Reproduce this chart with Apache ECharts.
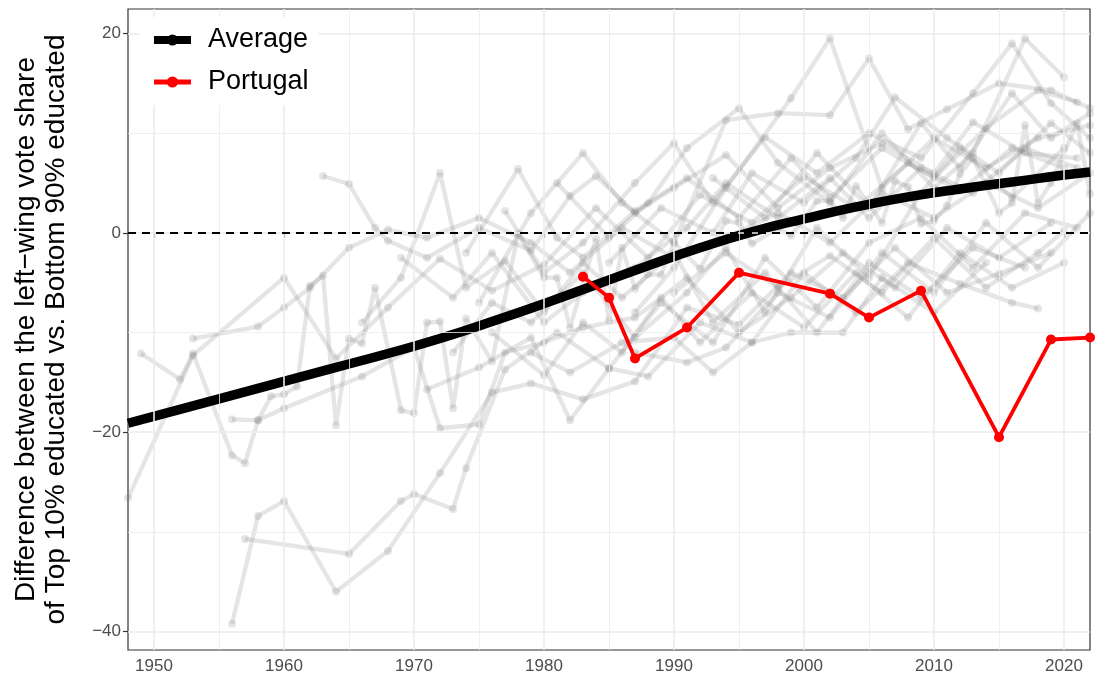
<!DOCTYPE html>
<html>
<head>
<meta charset="utf-8">
<script src="https://cdn.jsdelivr.net/npm/echarts@6/dist/echarts.min.js"></script>
<style>
  html, body { margin: 0; padding: 0; background: #ffffff; }
  #chart { width: 1095px; height: 686px; }
</style>
</head>
<body>
<div id="chart"></div>
<script>
// Difference between left-wing vote share of top 10% vs bottom 90% educated, by election year.

// Axis ranges and tick labels
const xRange = [1948, 2022];
const yRange = [-41.84, 22.45];
const xMajorTicks = [1950, 1960, 1970, 1980, 1990, 2000, 2010, 2020];
const xMinorTicks = [1955, 1965, 1975, 1985, 1995, 2005, 2015];
const yMajorTicks = [-40, -20, 0, 20];
const yMinorTicks = [-30, -10, 10];

// Highlighted country
const portugalYears  = [1983, 1985, 1987, 1991, 1995, 2002, 2005, 2009, 2015, 2019, 2022];
const portugalValues = [-4.4, -6.5, -12.6, -9.5, -4.0, -6.1, -8.5, -5.8, -20.5, -10.7, -10.5];

// Cross-country average (smoothed trend)
const averageYears  = [1948, 1952, 1956, 1960, 1964, 1968, 1972, 1976, 1980, 1984, 1988, 1992, 1996, 2000, 2004, 2008, 2012, 2016, 2020, 2022];
const averageValues = [-19.1, -17.7, -16.3, -14.9, -13.5, -12.1, -10.6, -8.9, -7.1, -5.2, -3.3, -1.5, 0.1, 1.4, 2.6, 3.6, 4.4, 5.1, 5.8, 6.1];

// Other countries: [election year, difference]
const c01 = [[1949,-12.1],[1952,-14.7],[1953,-12.1],[1956,-22.3],[1957,-23.1],[1958,-18.8],[1959,-16.4],[1960,-16.2],[1961,-15.4],[1962,-5.3],[1963,-4.3],[1964,-19.3],[1965,-10.6],[1966,-11.1],[1967,-5.5],[1969,-17.8],[1970,-18.1],[1971,-9.0],[1972,-8.9],[1973,-17.6],[1974,-8.6],[1976,-12.9],[1978,-0.1],[1980,-4.5],[1981,-4.5],[1982,-9.5],[1984,-0.6],[1985,-8.8],[1986,-1.5],[1987,-5.6],[1988,-4.2],[1989,-4.2],[1990,-1.0],[1992,-3.6],[1994,1.2],[1995,1.0],[1996,-1.1],[1998,0.5],[1999,-0.3],[2001,3.2],[2002,3.2],[2003,1.5],[2004,4.7],[2006,1.0],[2007,5.2],[2008,4.6],[2009,0.9],[2010,1.2],[2011,2.7],[2012,5.9],[2013,7.5],[2015,2.0],[2016,3.0],[2017,10.8],[2018,3.0],[2019,5.0],[2021,11.0],[2022,3.9]];
const c02 = [[1948,-26.6],[1953,-12.3],[1960,-4.5],[1964,-12.6],[1968,-7.5],[1972,-2.6],[1976,-5.8],[1980,-3.2],[1984,2.5],[1988,-2.5],[1992,3.8],[1996,1.0],[2000,5.6],[2004,2.5],[2008,7.0],[2012,4.2],[2016,8.5],[2020,6.5]];
const c03 = [[1956,-39.2],[1958,-28.4],[1960,-26.9],[1964,-36.0],[1968,-31.9],[1972,-24.1],[1976,-16.0],[1979,-15.1],[1983,-16.7],[1987,-14.9],[1991,-7.5],[1995,-9.2],[1999,-4.0],[2003,-6.5],[2007,-1.5],[2011,-6.0],[2015,-4.1],[2019,-2.0]];
const c04 = [[1957,-30.7],[1965,-32.2],[1969,-26.9],[1970,-26.2],[1973,-27.7],[1974,-23.6],[1977,-13.7],[1981,-10.0],[1985,-13.6],[1988,-14.4],[1992,-9.0],[1996,-11.0],[2000,-4.0],[2004,-8.0],[2008,-3.0],[2012,-5.1],[2016,-7.0],[2018,-7.6]];
const c05 = [[1963,5.7],[1965,4.9],[1967,0.5],[1968,-0.8],[1971,-2.5],[1975,0.5],[1979,-1.8],[1982,3.7],[1984,5.7],[1987,2.0],[1990,4.5],[1994,7.8],[1998,2.5],[2002,6.5],[2006,9.0],[2010,6.0],[2013,11.1],[2017,8.0],[2021,7.5]];
const c06 = [[1987,-8.0],[1990,-3.5],[1994,4.5],[1999,13.5],[2002,19.5],[2006,4.5],[2010,9.5],[2014,6.5],[2018,9.5],[2022,10.8]];
const c07 = [[1966,-9.0],[1969,-4.5],[1972,6.0],[1974,-5.5],[1977,-2.8],[1980,-8.0],[1983,-3.0],[1986,-6.5],[1990,-2.0],[1993,-9.0],[1997,-4.0],[2001,-10.0],[2005,-3.0],[2009,-6.5],[2013,-1.5],[2017,-3.5]];
const c08 = [[1974,-2.0],[1978,6.4],[1981,-0.5],[1983,-2.5],[1987,2.2],[1991,5.5],[1995,1.5],[1999,7.5],[2002,3.5],[2006,8.5],[2010,5.5],[2014,10.5],[2018,14.3],[2021,13.1]];
const c09 = [[1975,-7.0],[1979,2.0],[1983,8.0],[1986,3.0],[1990,-1.0],[1994,11.3],[1998,12.0],[2002,11.8],[2005,17.5],[2008,10.4],[2011,12.4],[2015,15.0],[2019,14.3],[2022,12.5]];
const c10 = [[1953,-10.6],[1958,-9.4],[1960,-7.5],[1962,-5.5],[1965,-1.5],[1968,0.3],[1971,-0.5],[1975,1.5],[1979,-1.0],[1982,-4.0],[1986,0.5],[1990,-2.5],[1994,-0.5],[1998,2.0],[2002,-1.0],[2006,4.0],[2010,1.5],[2014,5.0],[2018,2.5],[2022,6.0]];
const c11 = [[1956,-18.7],[1958,-18.8],[1960,-17.6],[1966,-14.4],[1970,-11.5],[1972,-19.6],[1975,-19.2],[1977,-12.0],[1980,-11.0],[1983,-9.5],[1987,-8.5],[1991,-4.5],[1995,-10.0],[1999,-6.5],[2003,-2.0],[2007,-5.5],[2011,0.5],[2015,-2.5],[2019,1.0]];
const c12 = [[1971,-15.7],[1975,-13.5],[1979,-10.5],[1982,-18.8],[1985,-13.6],[1989,-7.0],[1993,-11.0],[1997,-2.5],[2001,-7.5],[2005,-1.0],[2009,1.5],[2013,-3.5],[2017,2.0],[2021,0.5]];
const c13 = [[1977,2.2],[1980,-4.0],[1983,-1.0],[1987,5.0],[1990,9.0],[1993,3.0],[1997,9.6],[2001,6.0],[2005,10.0],[2009,7.5],[2013,14.0],[2016,19.0],[2019,13.0],[2022,9.5]];
const c14 = [[1981,5.0],[1985,-0.5],[1988,3.0],[1991,8.5],[1995,12.5],[1998,7.0],[2002,3.0],[2006,10.0],[2010,4.5],[2013,8.0],[2017,19.5],[2020,15.6]];
const c15 = [[1973,-12.0],[1976,-7.0],[1979,-9.0],[1983,-4.0],[1987,-10.5],[1991,-6.0],[1994,-1.5],[1997,-8.0],[2001,0.5],[2005,-4.5],[2009,4.0],[2012,8.6],[2016,3.5],[2020,8.5]];
const c16 = [[1985,-3.0],[1989,2.5],[1993,0.0],[1996,6.0],[2000,3.0],[2004,7.5],[2007,13.6],[2011,9.5],[2015,6.0],[2019,11.0],[2022,8.0]];
const c17 = [[1990,-6.0],[1994,-2.0],[1998,-5.5],[2002,-2.3],[2006,-6.0],[2010,-0.5],[2014,-5.5],[2018,-2.0],[2020,0.2]];
const c18 = [[1976,-10.0],[1980,-14.3],[1983,-9.0],[1986,-12.0],[1989,-6.5],[1992,-11.0],[1996,-6.0],[2000,-9.5],[2004,-4.0],[2008,-8.5],[2012,-2.0],[2016,-5.5],[2020,-3.0]];
const c19 = [[1969,-2.5],[1973,-6.5],[1976,-2.0],[1980,-9.0],[1983,-6.0],[1987,-3.5],[1991,0.5],[1994,5.0],[1998,1.5],[2002,5.5],[2005,1.5],[2009,6.5],[2013,4.0],[2017,8.5],[2021,6.5]];
const c20 = [[1979,-12.0],[1982,-14.0],[1986,-11.0],[1990,-10.5],[1993,-14.0],[1996,-11.0],[1999,-10.0],[2003,-10.0],[2006,-4.5],[2010,-8.0],[2014,-3.0]];
const c21 = [[1987,-12.0],[1991,-13.0],[1994,-11.5],[1998,-6.0],[2002,-8.5],[2006,-2.0],[2010,-6.0],[2014,1.0],[2018,-3.5],[2022,2.0]];
const c22 = [[1993,5.5],[1997,1.5],[2001,8.0],[2005,2.5],[2009,11.0],[2012,6.5],[2016,14.0],[2019,9.5],[2022,12.0]];

const otherCountries = [c01, c02, c03, c04, c05, c06, c07, c08, c09, c10, c11, c12, c13, c14, c15, c16, c17, c18, c19, c20, c21, c22];

const zip = (xs, ys) => xs.map((x, i) => [x, ys[i]]);
const minusFmt = v => (v < 0 ? '\u2212' + Math.abs(v) : String(v));

const FONT = 'Liberation Sans, Arial, Helvetica, sans-serif';
const GREY = '#7f7f7f';

const gridLines = [
  ...xMajorTicks.map(v => ({ xAxis: v, lineStyle: { color: '#ebebeb', width: 1.6, type: 'solid' } })),
  ...xMinorTicks.map(v => ({ xAxis: v, lineStyle: { color: '#ebebeb', width: 0.8, type: 'solid' } })),
  ...yMajorTicks.map(v => ({ yAxis: v, lineStyle: { color: '#ebebeb', width: 1.6, type: 'solid' } })),
  ...yMinorTicks.map(v => ({ yAxis: v, lineStyle: { color: '#ebebeb', width: 0.8, type: 'solid' } }))
];

const series = [];

// Background panel grid
series.push({
  name: 'panel-grid', type: 'line', data: [], silent: true, z: 0,
  markLine: { silent: true, symbol: 'none', label: { show: false }, animation: false, data: gridLines }
});

// Individual countries in translucent grey
otherCountries.forEach((pts, i) => {
  series.push({
    name: 'country-' + (i + 1), type: 'line', data: pts, z: 1, silent: true,
    symbol: 'circle', symbolSize: 8, showSymbol: true,
    lineStyle: { color: GREY, width: 4.3, opacity: 0.2 },
    itemStyle: { color: GREY, opacity: 0.2 }
  });
});

// Zero reference
series.push({
  name: 'zero', type: 'line', data: [], silent: true, z: 3,
  markLine: {
    silent: true, symbol: 'none', label: { show: false }, animation: false,
    data: [{ yAxis: 0, lineStyle: { color: '#000000', width: 2, type: [8, 6] } }]
  }
});

series.push({
  name: 'Average', type: 'line', data: zip(averageYears, averageValues), z: 4,
  smooth: 0.5, symbol: 'circle', symbolSize: 10, showSymbol: false,
  lineStyle: { color: '#000000', width: 9.5 }, itemStyle: { color: '#000000' }
});

series.push({
  name: 'Portugal', type: 'line', data: zip(portugalYears, portugalValues), z: 5,
  symbol: 'circle', symbolSize: 10, showSymbol: true,
  lineStyle: { color: '#ff0000', width: 3.8 }, itemStyle: { color: '#ff0000' }
});

const chart = echarts.init(document.getElementById('chart'), null, { renderer: 'canvas' });
chart.setOption({
  animation: false,
  backgroundColor: '#ffffff',
  textStyle: { fontFamily: FONT },
  grid: {
    left: 128, right: 5, top: 9, bottom: 36, show: true,
    borderColor: '#333333', borderWidth: 1.2, backgroundColor: 'transparent',
    outerBoundsMode: 'none', containLabel: false
  },
  legend: {
    data: [
      { name: 'Average', lineStyle: { width: 8, color: '#000000' }, itemStyle: { color: '#000000' } },
      { name: 'Portugal', lineStyle: { width: 5, color: '#ff0000' }, itemStyle: { color: '#ff0000' } }
    ],
    orient: 'vertical', left: 140, top: 17, z: 10,
    itemWidth: 37, itemHeight: 14, itemGap: 12,
    backgroundColor: '#ffffff', padding: [8, 10, 8, 10],
    textStyle: { fontFamily: FONT, fontSize: 27, lineHeight: 30, color: '#000000', padding: [0, 0, 0, 12] }
  },
  xAxis: {
    type: 'value', min: xRange[0], max: xRange[1],
    axisLine: { show: false },
    splitLine: { show: false },
    axisTick: { show: true, customValues: xMajorTicks, length: 5, lineStyle: { color: '#333333', width: 1.2 } },
    axisLabel: { customValues: xMajorTicks, color: '#4d4d4d', fontSize: 17, fontFamily: FONT, margin: 8, formatter: v => String(v) }
  },
  yAxis: {
    type: 'value', min: yRange[0], max: yRange[1],
    name: 'Difference between the left\u2212wing vote share\nof Top 10% educated vs. Bottom 90% educated',
    nameLocation: 'middle', nameRotate: 90, nameGap: 57,
    nameTextStyle: { fontFamily: FONT, fontSize: 28, color: '#000000', lineHeight: 30 },
    axisLine: { show: false },
    splitLine: { show: false },
    axisTick: { show: true, customValues: yMajorTicks, length: 5, lineStyle: { color: '#333333', width: 1.2 } },
    axisLabel: { customValues: yMajorTicks, color: '#4d4d4d', fontSize: 17, fontFamily: FONT, margin: 7, formatter: minusFmt }
  },
  series: series
});
</script>
</body>
</html>
